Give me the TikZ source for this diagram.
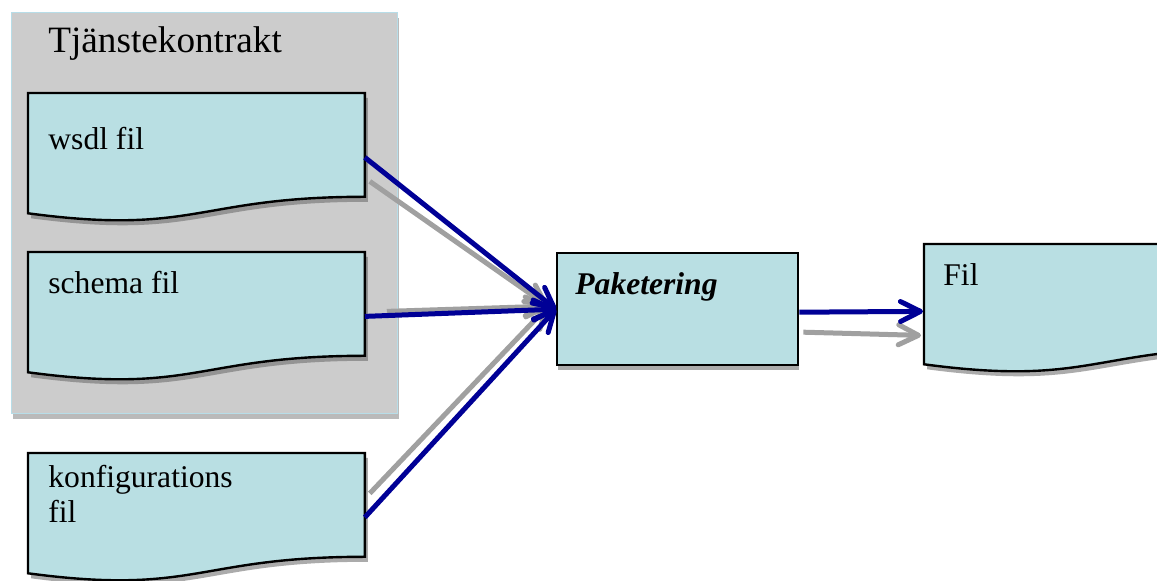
\documentclass[tikz,border=0pt]{standalone}
\usepackage{fontspec}
\setmainfont{Liberation Serif}
\usepackage{tikz}
\usepackage{xcolor}
\usetikzlibrary{arrows.meta}
\usetikzlibrary{calc}
\usetikzlibrary{shadows}

\definecolor{dokblue}{RGB}{185,223,227}
\definecolor{ramgray}{RGB}{204,204,204}
\definecolor{ramedge}{RGB}{183,221,232}
\definecolor{pilblue}{RGB}{0,0,150}
\definecolor{pilgray}{RGB}{160,160,160}

\tikzset{
	dok/.style={minimum width=168pt, minimum height=64pt, inner sep=0pt, anchor=north west},
	dokfill/.style={fill=dokblue, draw=black, line width=1.2pt, drop shadow={shadow xshift=1.5pt, shadow yshift=-2.5pt, fill=black!60, opacity=0.55}},
	doktext/.style={anchor=base west, font=\fontsize{15.8pt}{17.5pt}\selectfont, align=left, inner sep=0pt},
	pil/.style={line width=2.5pt, draw=pilblue, -{Straight Barb[length=10pt,width=10pt,round]}},
	skugga/.style={line width=2.5pt, draw=pilgray, -{Straight Barb[length=10pt,width=10pt,round]}},
}

% dokument med vagig nederkant
\newcommand{\dokument}[1]{%
	\path[dokfill] (#1.north west) -- (#1.north east) -- ($(#1.south east)+(0,-25)$)
	.. controls ($(#1.south)+(0,-25)$) and ($(#1.south)+(0,14)$) .. ($(#1.south west)+(0,-8.5)$) -- cycle;}

\begin{document}
\begin{tikzpicture}[x=0.5pt,y=-0.5pt]
	\clip (0,0) rectangle (1157,581);

	% (Tjänstekontrakt)
	\node[rectangle, anchor=north west, inner sep=0pt, minimum width=193pt, minimum height=200.5pt, fill=ramgray, draw=ramedge, line width=0.6pt, drop shadow={shadow xshift=0.5pt, shadow yshift=-2.5pt, fill=black!60, opacity=0.45}] (kontrakt) at (11,12) {};
	\node[anchor=base west, inner sep=0pt, font=\fontsize{18.6pt}{22pt}\selectfont] (kontrakttitel) at (48,53) {Tjänstekontrakt};

	% (filer)
	\node[dok] (wsdl) at (28,93) {};
	\node[dok] (schema) at (28,252) {};
	\node[dok] (konfig) at (28,453) {};
	\node[dok] (fil) at (924,244) {};
	\foreach \d in {wsdl,schema,konfig,fil} {\dokument{\d}}
	\node[doktext] (wsdltext) at (48,150) {wsdl fil};
	\node[doktext] (schematext) at (48,294) {schema fil};
	\node[doktext] (konfigtext) at (48,523) {konfigurations\\fil};
	\node[doktext] (filtext) at (943,286) {Fil};

	% (Paketering)
	\node[rectangle, anchor=north west, inner sep=0pt, minimum width=120.5pt, minimum height=56pt, fill=dokblue, draw=black, line width=1.2pt, drop shadow={shadow xshift=0.5pt, shadow yshift=-2.5pt, fill=black!60, opacity=0.55}] (pak) at (556,252) {};
	\node[doktext, font=\fontsize{15.8pt}{17.5pt}\selectfont\bfseries\itshape] (paktext) at (575,295) {Paketering};

	% pilar
	\draw[skugga] ([shift={(5,24)}]wsdl.east) -- ([shift={(-8,-3)}]pak.west);
	\draw[skugga] ([shift={(22,-5)}]schema.east) -- ([shift={(-8,-3)}]pak.west);
	\draw[skugga] ([shift={(5,-24)}]konfig.east) -- ([shift={(-8,-3)}]pak.west);
	\draw[skugga] ([shift={(4,23)}]pak.east) -- ([shift={(-3,27)}]fil.west);
	\foreach \d in {wsdl,schema,konfig} {\draw[pil] (\d.east) -- (pak.west);}
	\draw[pil] ([shift={(0,3)}]pak.east) -- ([shift={(-1,3)}]fil.west);

\end{tikzpicture}
\end{document}
